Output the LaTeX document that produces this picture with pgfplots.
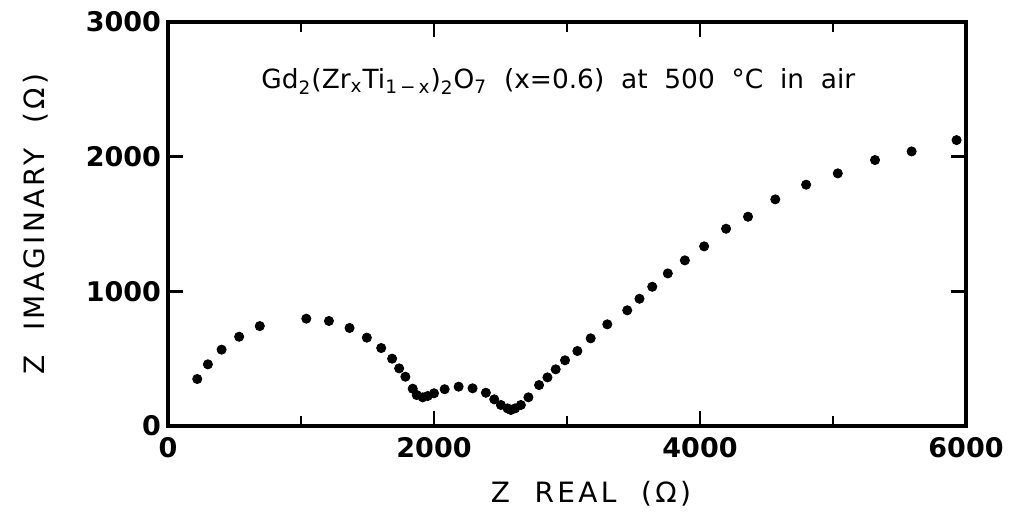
\documentclass[border=0pt]{standalone}
\usepackage{fontspec}
\setmainfont{DejaVu Sans}
\usepackage{pgfplots}
\usetikzlibrary{calc}
\pgfplotsset{compat=1.18}
\begin{document}
\begin{tikzpicture}
\begin{axis}[
  name=ax,
  scale only axis,
  width=399pt, height=202pt,
  xmin=0, xmax=6000, ymin=0, ymax=3000,
  xtick={0,2000,4000,6000},
  minor xtick={1000,3000,5000},
  ytick={0,1000,2000,3000},
  scaled ticks=false,
  /pgf/number format/1000 sep={},
  /pgf/number format/assume math mode=true,
  tick label style={font=\fontsize{13.5}{14}\selectfont\bfseries},
  axis line style={line width=2pt},
  every tick/.style={line width=1.2pt, black},
  major tick length=7.5pt,
  minor tick length=5pt,
  tick align=inside,
  xtick pos=both, ytick pos=both,
  xlabel={\addfontfeatures{LetterSpace=12}Z\ \ REAL\ \ (Ω)},
  ylabel={\addfontfeatures{LetterSpace=12}Z\ \ IMAGINARY\ \ (Ω)},
  label style={font=\fontsize{14}{15}\selectfont},
  xlabel style={yshift=-5pt, xshift=12pt},
  ylabel style={yshift=12pt},
  xticklabel style={yshift=-2pt},
]
\addplot[only marks, mark=*, mark size=2.3pt, black] coordinates {
(220,349) (300,458) (403,567) (535,663) (690,742) (1040,797) (1210,780)
(1365,728) (1495,656) (1603,579) (1685,500) (1738,428) (1785,366)
(1840,277) (1870,230) (1915,213) (1953,223) (2000,243) (2080,273)
(2185,292) (2290,280) (2390,247) (2453,198) (2503,156) (2553,131)
(2578,119) (2610,131) (2653,156) (2710,213) (2790,304) (2853,361)
(2915,421) (2985,488) (3078,557) (3178,651) (3303,755) (3453,859)
(3545,945) (3641,1034) (3758,1133) (3886,1230) (4031,1334) (4196,1465)
(4361,1554) (4566,1683) (4798,1792) (5036,1876) (5316,1975) (5591,2039)
(5929,2123)
};
\node[anchor=west, font=\fontsize{13.2}{14}\selectfont, inner sep=0pt] at (axis cs:700,2560)
  {Gd\textsubscript{2}(Zr\textsubscript{x}Ti\textsubscript{1\,−\,x})\textsubscript{2}O\textsubscript{7}\ \ (x=0.6)\ \ at\ \ 500\ \ °C\ \ in\ \ air};
\end{axis}
\pgfresetboundingbox
\path[use as bounding box] ($(ax.south west)+(-84pt,-46.5pt)$) rectangle ($(ax.north east)+(21.5pt,11pt)$);
\end{tikzpicture}
\end{document}
